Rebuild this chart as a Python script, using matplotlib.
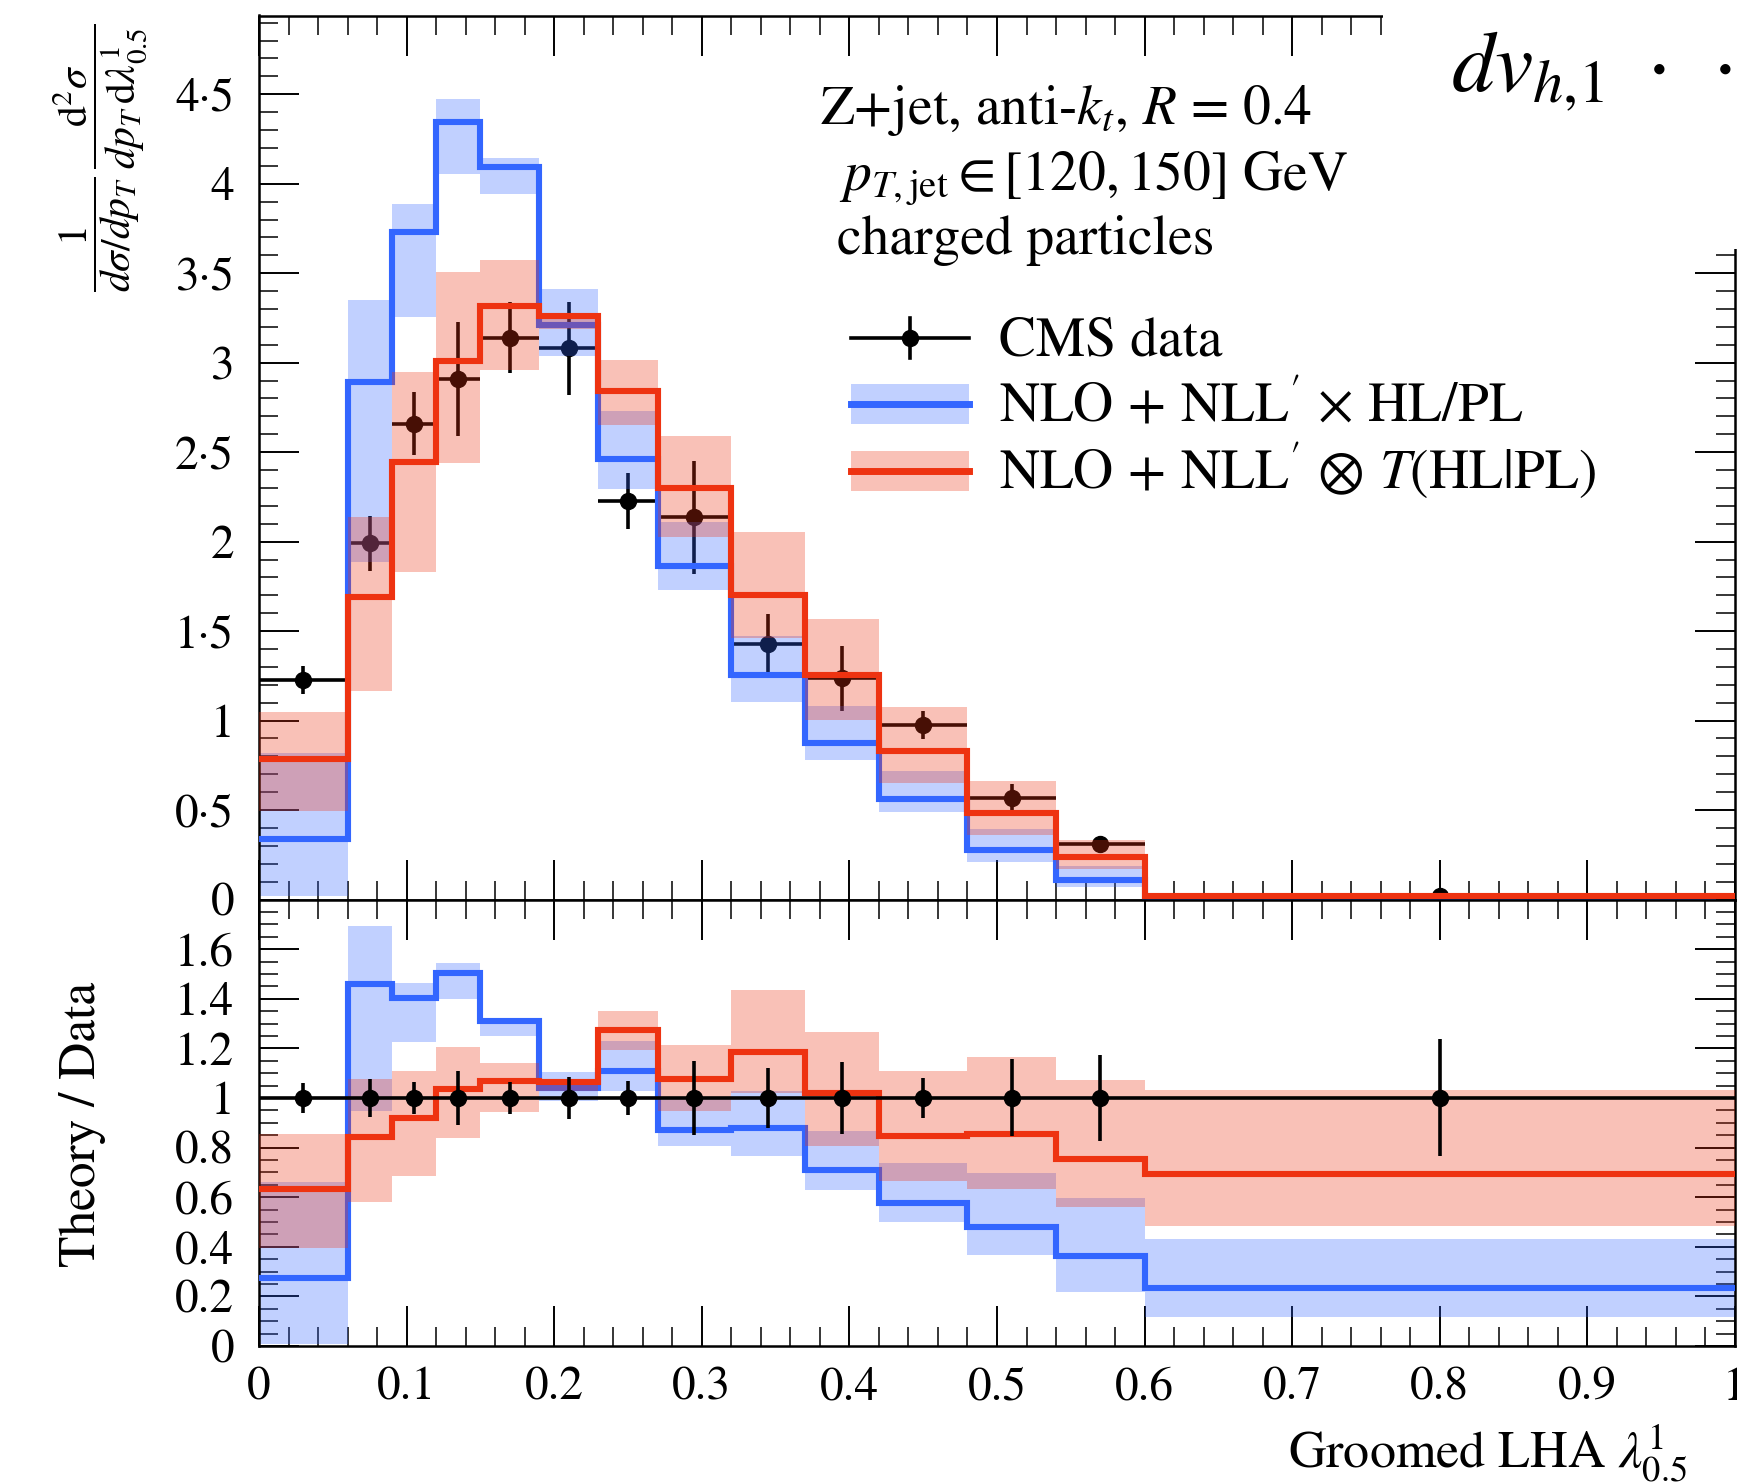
import numpy as np
import matplotlib
matplotlib.use('Agg')
import matplotlib.pyplot as plt
from matplotlib.lines import Line2D
from matplotlib.patches import Rectangle
from matplotlib.ticker import MultipleLocator

plt.rcParams['font.family'] = ['STIXGeneral', 'DejaVu Sans']
plt.rcParams['mathtext.fontset'] = 'stix'

# ---- binning of the groomed LHA ----
edges = [0.0, 0.06, 0.09, 0.12, 0.15, 0.19, 0.23, 0.27, 0.32, 0.37, 0.42, 0.48, 0.54, 0.60, 1.0]

# ---- normalised distribution ----
data_val = [1.227, 1.99, 2.66, 2.91, 3.14, 3.08, 2.228, 2.135, 1.427, 1.236, 0.976, 0.569, 0.312, 0.02]
data_err = [0.076, 0.154, 0.175, 0.32, 0.20, 0.26, 0.156, 0.315, 0.169, 0.18, 0.079, 0.075, 0.03, 0.01]

blue_val = [0.337, 2.893, 3.73, 4.346, 4.093, 3.213, 2.463, 1.866, 1.255, 0.875, 0.563, 0.275, 0.108, 0.006]
blue_lo = [0.02, 1.885, 3.254, 4.054, 3.943, 3.035, 2.293, 1.728, 1.103, 0.782, 0.489, 0.21, 0.07, 0.003]
blue_hi = [0.82, 3.352, 3.889, 4.476, 4.146, 3.41, 2.728, 2.107, 1.47, 1.079, 0.72, 0.396, 0.19, 0.011]

red_val = [0.787, 1.69, 2.443, 3.009, 3.318, 3.263, 2.84, 2.302, 1.70, 1.255, 0.829, 0.485, 0.236, 0.017]
red_lo = [0.495, 1.166, 1.83, 2.44, 2.961, 3.19, 2.654, 2.024, 1.459, 1.005, 0.65, 0.359, 0.17, 0.012]
red_hi = [1.05, 2.139, 2.948, 3.504, 3.572, 3.28, 3.016, 2.589, 2.056, 1.57, 1.074, 0.66, 0.331, 0.026]

# ---- theory / data ----
ratio_err = [0.061, 0.078, 0.066, 0.11, 0.066, 0.083, 0.07, 0.148, 0.121, 0.145, 0.082, 0.155, 0.172, 0.236]

blue_ratio = [0.274, 1.461, 1.404, 1.505, 1.312, 1.041, 1.109, 0.871, 0.878, 0.708, 0.576, 0.479, 0.361, 0.232]
blue_ratio_lo = [0.01, 0.946, 1.224, 1.398, 1.25, 0.986, 1.027, 0.807, 0.767, 0.627, 0.498, 0.366, 0.218, 0.118]
blue_ratio_hi = [0.66, 1.692, 1.465, 1.543, 1.32, 1.105, 1.228, 1.0, 1.03, 0.868, 0.738, 0.699, 0.597, 0.432]

red_ratio = [0.634, 0.844, 0.919, 1.037, 1.068, 1.064, 1.274, 1.077, 1.187, 1.018, 0.848, 0.856, 0.754, 0.695]
red_ratio_lo = [0.396, 0.579, 0.684, 0.837, 0.943, 1.03, 1.194, 0.946, 1.02, 0.806, 0.667, 0.631, 0.56, 0.484]
red_ratio_hi = [0.855, 1.075, 1.109, 1.206, 1.14, 1.06, 1.349, 1.214, 1.437, 1.265, 1.107, 1.165, 1.072, 1.031]

# ---- tick labels ----
x_ticks = [0.0, 0.1, 0.2, 0.3, 0.4, 0.5, 0.6, 0.7, 0.8, 0.9, 1.0]
x_tick_labels = ['0', '0.1', '0.2', '0.3', '0.4', '0.5', '0.6', '0.7', '0.8', '0.9', '1']
top_ticks = [0, 0.5, 1, 1.5, 2, 2.5, 3, 3.5, 4, 4.5]
top_tick_labels = ['0', '0\u00b75', '1', '1\u00b75', '2', '2\u00b75', '3', '3\u00b75', '4', '4\u00b75']
ratio_ticks = [0, 0.2, 0.4, 0.6, 0.8, 1.0, 1.2, 1.4, 1.6]
ratio_tick_labels = ['0', '0.2', '0.4', '0.6', '0.8', '1', '1.2', '1.4', '1.6']

BLUE = '#3366ff'
RED = '#ee3311'
BAND_ALPHA = 0.3
LW = 4.4
TXT = 40

W, H = 1737, 1484


def fx(px):
    return px / W


def fy(py):
    return 1 - py / H


edges_a = np.array(edges)
centers = 0.5 * (edges_a[1:] + edges_a[:-1])
halfw = 0.5 * (edges_a[1:] - edges_a[:-1])

fig = plt.figure(figsize=(W / 100, H / 100), dpi=100)
ax = fig.add_axes([fx(259), fy(899.5), fx(1735) - fx(259), fy(15.5) - fy(899.5)])
axr = fig.add_axes([fx(259), fy(1346), fx(1735) - fx(259), fy(899.5) - fy(1346)], sharex=ax)


def draw_theory(a, val, lo, hi, color, z):
    a.stairs(hi, edges, baseline=lo, fill=True, facecolor=color, edgecolor='none',
             alpha=BAND_ALPHA, zorder=z)
    a.stairs(val, edges, baseline=None, edgecolor=color, linewidth=LW,
             joinstyle='miter', zorder=z + 1)


# upper panel: data sits under the bands
ax.errorbar(centers, data_val, yerr=data_err, xerr=halfw, fmt='o', color='k',
            ms=11.5, elinewidth=2.6, capsize=0, zorder=1)
draw_theory(ax, blue_val, blue_lo, blue_hi, BLUE, 2)
draw_theory(ax, red_val, red_lo, red_hi, RED, 4)

# ratio panel: data on top
draw_theory(axr, blue_ratio, blue_ratio_lo, blue_ratio_hi, BLUE, 2)
draw_theory(axr, red_ratio, red_ratio_lo, red_ratio_hi, RED, 4)
axr.errorbar(centers, np.ones(len(centers)), yerr=ratio_err, xerr=halfw, fmt='o', color='k',
             ms=11.5, elinewidth=2.6, capsize=0, zorder=6)

ax.set_xlim(0, 1)
ax.set_ylim(0, 4.94)
axr.set_ylim(0, 1.8)

for a in (ax, axr):
    a.tick_params(which='both', direction='in', top=True, right=True, labelsize=34)
    a.tick_params(which='major', length=29, width=1.4)
    a.tick_params(which='minor', length=14, width=1.1)
    a.tick_params(axis='y', pad=18)
    a.tick_params(axis='x', pad=15)
    a.xaxis.set_minor_locator(MultipleLocator(0.02))
    for s in a.spines.values():
        s.set_linewidth(1.8)

ax.set_xticks(x_ticks)
ax.tick_params(labelbottom=False)
axr.set_xticks(x_ticks)
axr.set_xticklabels(x_tick_labels)

ax.set_yticks(top_ticks)
ax.set_yticklabels(top_tick_labels)
ax.yaxis.set_minor_locator(MultipleLocator(0.1))
axr.set_yticks(ratio_ticks)
axr.set_yticklabels(ratio_tick_labels)
axr.yaxis.set_minor_locator(MultipleLocator(0.05))

# axis titles
fig.text(fx(100), fy(158),
         r'$\dfrac{1}{d\sigma/dp_T}\,\dfrac{\mathrm{d}^2\sigma}{dp_T\,\mathrm{d}\lambda^1_{0.5}}$',
         rotation=90, ha='center', va='center', fontsize=30)
fig.text(fx(83), fy(1124), 'Theory / Data', rotation=90, ha='center', va='center', fontsize=37)
fig.text(fx(1288), fy(1468), r'Groomed LHA $\lambda^{1}_{0.5}$', ha='left', va='baseline',
         fontsize=37.5)

# process description
fig.text(fx(820), fy(124), r'Z+jet, anti-$k_t$, $R$ = 0.4', fontsize=TXT, va='baseline')
fig.text(fx(839), fy(190), r'$p_{T,\mathrm{jet}} \in [120, 150]$ GeV', fontsize=TXT, va='baseline')
fig.text(fx(837), fy(254), 'charged particles', fontsize=TXT, va='baseline')

# panel tag in the top right corner, on a white patch over the frame
fig.add_artist(Rectangle((fx(1383), fy(249)), 1 - fx(1383), 1 - fy(249), facecolor='white',
                         edgecolor='none', transform=fig.transFigure, zorder=10))
fig.text(fx(1451), fy(91), r'$dv_{h,\!1}\ \cdot\;\cdot\;\cdot$', fontsize=62, va='baseline',
         zorder=11)

# legend
tf = fig.transFigure
hx0, hx1, tx = 851, 969, 999
rows = [338, 404, 471]
fig.add_artist(Line2D([fx(hx0), fx(hx1)], [fy(rows[0])] * 2, color='k', lw=2.6, transform=tf))
fig.add_artist(Line2D([fx(0.5 * (hx0 + hx1))] * 2, [fy(rows[0] - 20), fy(rows[0] + 20)],
                      color='k', lw=2.6, transform=tf))
fig.add_artist(Line2D([fx(0.5 * (hx0 + hx1))], [fy(rows[0])], marker='o', ms=11.5,
                      color='k', transform=tf))
for yc, col in zip(rows[1:], (BLUE, RED)):
    fig.add_artist(Rectangle((fx(hx0), fy(yc + 20)), fx(hx1) - fx(hx0), fy(yc - 20) - fy(yc + 20),
                             facecolor=col, edgecolor='none', alpha=BAND_ALPHA, transform=tf))
    fig.add_artist(Line2D([fx(hx0), fx(hx1)], [fy(yc)] * 2, color=col, lw=5, transform=tf))

fig.text(fx(tx), fy(356), 'CMS data', fontsize=TXT, va='baseline')
fig.text(fx(tx), fy(422), r'$\mathrm{NLO}\,+\,\mathrm{NLL}^{\prime}\,\times\,\mathrm{HL}/\mathrm{PL}$',
         fontsize=TXT, va='baseline')
fig.text(fx(tx), fy(489), r'$\mathrm{NLO}\,+\,\mathrm{NLL}^{\prime}\,\otimes\,T(\mathrm{HL}|\mathrm{PL})$',
         fontsize=TXT, va='baseline')

fig.savefig('out.png', dpi=100)
